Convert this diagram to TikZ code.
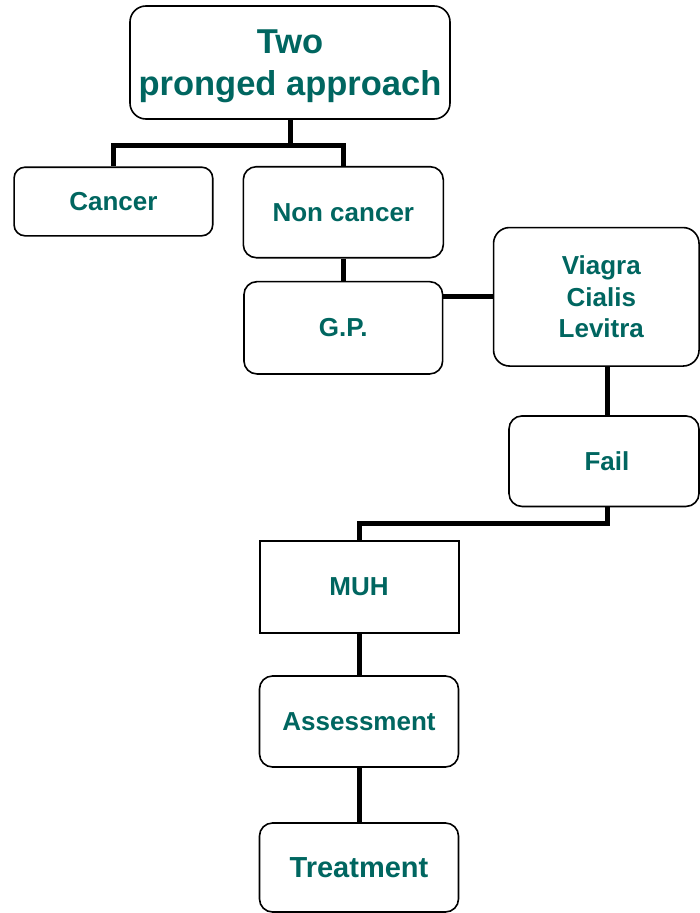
\documentclass[tikz,border=0pt]{standalone}
\usepackage{fontspec}
\setmainfont{Liberation Sans}
\definecolor{tealtxt}{RGB}{0,102,96}
\tikzset{
  box/.style={draw=black, line width=1.6pt, fill=white, rounded corners=13pt, inner sep=0pt, align=center,
    text=tealtxt, font=\bfseries\fontsize{26}{31.2}\selectfont},
  sqbox/.style={box, sharp corners, line width=2pt},
  conn/.style={draw=black, line width=5pt, line join=miter, line cap=butt},
}
\begin{document}
\begin{tikzpicture}[x=1pt, y=-1pt]
\useasboundingbox (0,0) rectangle (700,913);
\node[box, minimum width=320pt, minimum height=113pt, font=\bfseries\fontsize{34.5}{41.7}\selectfont, rounded corners=16pt, text depth=0pt] (top) at (290,62.5) {Two\\pronged approach};
\node[box, minimum width=198.7pt, minimum height=68.6pt, rounded corners=11pt] (cancer) at (113.4,201.5) {Cancer};
\node[box, minimum width=200pt, minimum height=91pt] (noncancer) at (343.3,212.2) {Non cancer};
\node[box, minimum width=198.7pt, minimum height=92.3pt] (gp) at (343.3,327.8) {G.P.};
\node[box, minimum width=205.5pt, minimum height=138.5pt, rounded corners=16pt] (viagra) at (596.3,296.8) {\hspace*{10pt}Viagra\\\hspace*{10pt}Cialis\\\hspace*{10pt}Levitra};
\node[box, minimum width=190pt, minimum height=90.5pt] (fail) at (604,461.2) {\hspace*{6pt}Fail};
\node[sqbox, minimum width=199pt, minimum height=92pt] (muh) at (359,587) {MUH};
\node[box, minimum width=199pt, minimum height=91pt] (assess) at (359,721.5) {Assessment};
\node[box, minimum width=199pt, minimum height=89pt, font=\bfseries\fontsize{29}{34.8}\selectfont] (treat) at (359,867.5) {Treatment};

\draw[conn] (top.south) -- ++(0,26) coordinate (j1);
\draw[conn] (cancer.north) |- (j1) -| (noncancer.north);
\draw[conn] (noncancer.south) -- (gp.north);
\draw[conn] (viagra.west) -- (viagra.west -| gp.east);
\draw[conn] ([xshift=3pt]fail.north |- viagra.south) -- ([xshift=3pt]fail.north);
\draw[conn] ([xshift=3pt]fail.south) -- ++(0,16.5) -| (muh.north);
\draw[conn] (muh.south) -- (assess.north);
\draw[conn] (assess.south) -- (treat.north);
\end{tikzpicture}
\end{document}
